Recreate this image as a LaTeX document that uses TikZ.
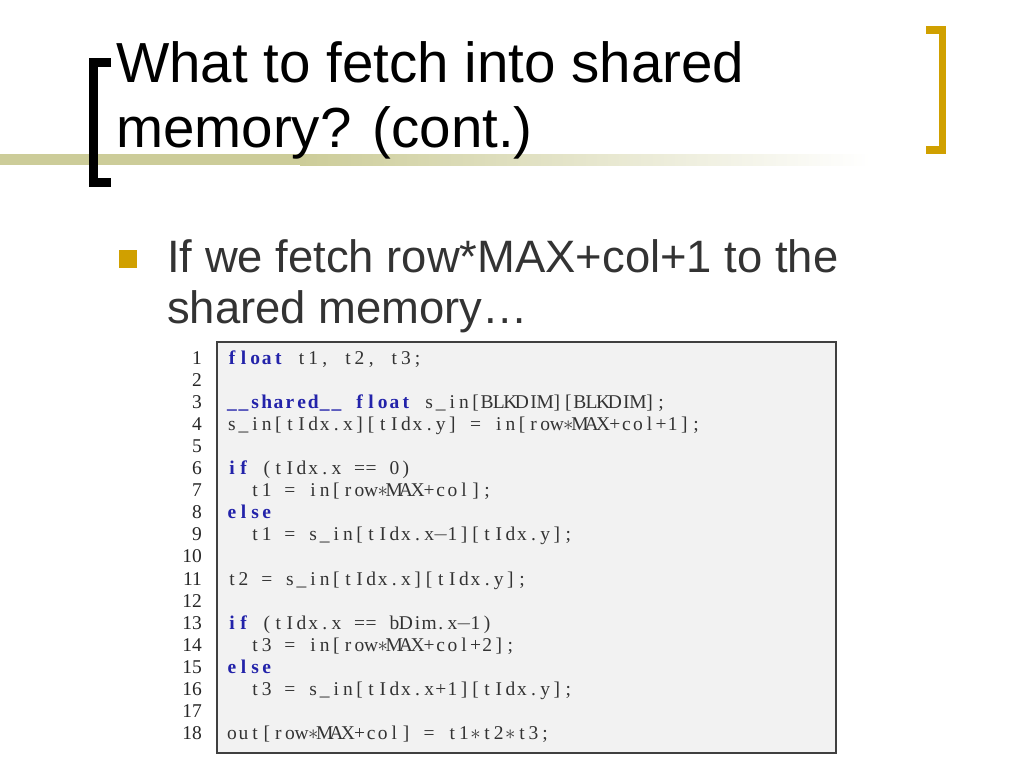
\documentclass[tikz,border=0pt]{standalone}
\usepackage{fontspec}
\setmainfont{Liberation Sans}
\newfontfamily\codefont{Liberation Serif}
\definecolor{bandolive}{RGB}{204,204,153}
\definecolor{bulletgold}{RGB}{208,160,0}
\definecolor{kwblue}{RGB}{35,35,170}
\definecolor{codebg}{RGB}{242,242,242}
\definecolor{codetext}{RGB}{51,51,51}
\newlength\colw
\setlength\colw{11.6pt}
\ExplSyntaxOn
\NewDocumentCommand \code { m }
  { \str_map_inline:nn {#1}
      { \makebox[\colw]{ \str_case:nnF {##1} { {*}{$\ast$} {-}{$-$} } {##1} } } }
\ExplSyntaxOff
\newcommand\kw[1]{{\bfseries\color{kwblue}\code{#1}}}
\newcommand\ind{\hspace*{2\colw}}
\begin{document}
\begin{tikzpicture}[x=1pt,y=-1pt,
  txt/.style={anchor=base west, inner sep=0pt},
  titletxt/.style={txt, font=\fontsize{56.5}{65}\selectfont},
  itemtxt/.style={txt, text=codetext, font=\fontsize{45.4}{51}\selectfont},
  lnum/.style={anchor=base east, inner sep=0pt, text=black!85, font=\codefont\fontsize{19.5}{22}\selectfont},
  codeline/.style={txt, text=codetext, font=\codefont\fontsize{19.5}{22}\selectfont}]
  \useasboundingbox (0,0) rectangle (1024,768);
  \fill[bandolive] (0,154) rectangle (300,165);
  \shade[left color=bandolive, right color=white] (300,154) rectangle (870,165);
  \draw[line width=9pt, black] (111,62.5) -| (93.5,182) -- (111,182);
  \draw[line width=7.5pt, bulletgold] (926,30) -| (942.5,150) -- (926,150);
  \node[titletxt] (title1) at (116,82) {What to fetch into shared};
  \node[titletxt] (title2) at (116,147) {memory? (cont.)};
  \fill[bulletgold] (119,250) rectangle (137,268);
  \node[itemtxt] (item1) at (167,272) {If we fetch row*MAX+col+1 to the};
  \node[itemtxt] (item2) at (167,323) {shared memory…};
  \draw[line width=1.5pt, draw=black!75, fill=codebg] (217,342) rectangle (836,753);
  \foreach \i in {1,...,18}
    \node[lnum] (n\i) at (202, 364+22.1*\i-22.1) {\i};
  \node[codeline] (c1) at (226,364) {\kw{float}\code{ t1, t2, t3;}};
  \node[codeline] (c3) at (226,408.2) {\kw{__shared__}\code{ }\kw{float}\code{ s_in[BLKDIM][BLKDIM];}};
  \node[codeline] (c4) at (226,430.3) {\code{s_in[tIdx.x][tIdx.y] = in[row*MAX+col+1];}};
  \node[codeline] (c6) at (226,474.5) {\kw{if}\code{ (tIdx.x == 0)}};
  \node[codeline] (c7) at (226,496.6) {\ind\code{t1 = in[row*MAX+col];}};
  \node[codeline] (c8) at (226,518.7) {\kw{else}};
  \node[codeline] (c9) at (226,540.8) {\ind\code{t1 = s_in[tIdx.x-1][tIdx.y];}};
  \node[codeline] (c11) at (226,585) {\code{t2 = s_in[tIdx.x][tIdx.y];}};
  \node[codeline] (c13) at (226,629.2) {\kw{if}\code{ (tIdx.x == bDim.x-1)}};
  \node[codeline] (c14) at (226,651.3) {\ind\code{t3 = in[row*MAX+col+2];}};
  \node[codeline] (c15) at (226,673.4) {\kw{else}};
  \node[codeline] (c16) at (226,695.5) {\ind\code{t3 = s_in[tIdx.x+1][tIdx.y];}};
  \node[codeline] (c18) at (226,739.7) {\code{out[row*MAX+col] = t1*t2*t3;}};
\end{tikzpicture}
\end{document}
